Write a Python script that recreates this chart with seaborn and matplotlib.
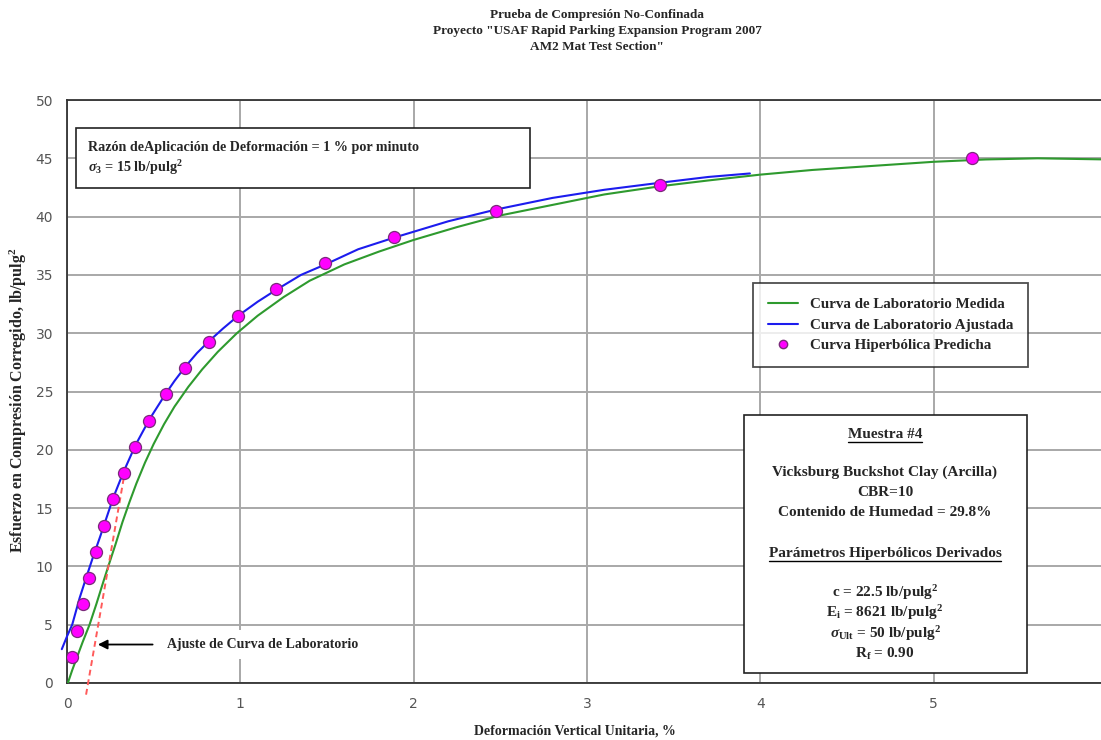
import numpy as np
import pandas as pd
import matplotlib
matplotlib.use('Agg')
import matplotlib.pyplot as plt
import seaborn as sns
from matplotlib.lines import Line2D
from matplotlib.patches import Rectangle
from matplotlib.ticker import MultipleLocator

# curva de laboratorio medida (verde)
meas_strain = [0.005, 0.03, 0.06, 0.09, 0.13, 0.17, 0.21, 0.238, 0.28, 0.32, 0.36, 0.40,
               0.45, 0.50, 0.56, 0.62, 0.70, 0.78, 0.87, 0.98, 1.10, 1.25, 1.40, 1.60,
               1.80, 2.0, 2.25, 2.5, 2.8, 3.1, 3.42, 3.7, 4.0, 4.3, 4.6, 5.0, 5.3,
               5.6, 6.0]
meas_stress = [0.0, 1.1, 2.3, 3.5, 5.0, 6.8, 8.7, 10.0, 11.9, 13.8, 15.5, 17.1,
               18.9, 20.5, 22.2, 23.7, 25.4, 26.9, 28.4, 30.0, 31.5, 33.1, 34.5, 35.9,
               37.0, 38.0, 39.1, 40.1, 41.0, 41.9, 42.6, 43.1, 43.6, 44.0, 44.3, 44.7, 44.9,
               45.0, 44.9]

# curva de laboratorio ajustada (azul)
fit_strain = [-0.03, 0.0, 0.03, 0.073, 0.112, 0.15, 0.19, 0.215, 0.267, 0.326, 0.395,
              0.475, 0.569, 0.62, 0.681, 0.75, 0.818, 0.9, 0.988, 1.1, 1.205, 1.35,
              1.491, 1.68, 1.888, 2.2, 2.473, 2.8, 3.1, 3.42, 3.7, 3.94]
fit_stress = [2.9, 4.0, 5.0, 7.3, 9.1, 10.8, 12.5, 13.6, 15.9, 18.1, 20.4,
              22.6, 24.8, 25.9, 27.1, 28.3, 29.3, 30.4, 31.5, 32.7, 33.7, 35.0,
              35.9, 37.2, 38.2, 39.6, 40.6, 41.6, 42.3, 42.9, 43.4, 43.7]

# curva hiperbolica predicha (puntos)
pred_strain = [0.027, 0.057, 0.091, 0.127, 0.168, 0.215, 0.267, 0.326, 0.395, 0.475,
               0.569, 0.681, 0.818, 0.988, 1.205, 1.491, 1.888, 2.473, 3.42, 5.22]
pred_stress = [2.25, 4.5, 6.75, 9.0, 11.25, 13.5, 15.75, 18.0, 20.25, 22.5,
               24.75, 27.0, 29.25, 31.5, 33.75, 36.0, 38.25, 40.5, 42.75, 45.0]

# linea de ajuste (roja punteada)
tangent_strain = [0.11, 0.33]
tangent_stress = [-1.0, 17.8]

measured = pd.DataFrame({'x': meas_strain, 'y': meas_stress})
fitted = pd.DataFrame({'x': fit_strain, 'y': fit_stress})
predicted = pd.DataFrame({'x': pred_strain, 'y': pred_stress})

sns.set_style('white')
plt.rcParams['font.family'] = ['Liberation Serif', 'DejaVu Serif']
plt.rcParams['mathtext.fontset'] = 'custom'
plt.rcParams['mathtext.rm'] = 'Liberation Serif:bold'
plt.rcParams['mathtext.it'] = 'Liberation Serif:italic:bold'
plt.rcParams['mathtext.bf'] = 'Liberation Serif:bold'

W, H = 1101, 740
fig = plt.figure(figsize=(W / 100, H / 100), dpi=100)
ax = fig.add_axes([67 / W, 57 / H, 1040 / W, 583 / H])

GREEN = '#2e9a2e'
BLUE = '#1c1cee'
MAG = '#ff00ff'

sns.lineplot(data=measured, x='x', y='y', sort=False, estimator=None, color=GREEN,
             lw=1.5, ax=ax, zorder=3)
sns.lineplot(data=fitted, x='x', y='y', sort=False, estimator=None, color=BLUE,
             lw=1.5, ax=ax, zorder=4, clip_on=False)
sns.scatterplot(data=predicted, x='x', y='y', color=MAG, edgecolor='#7a2a7a',
                linewidth=0.9, s=75, ax=ax, zorder=5)
ax.plot(tangent_strain, tangent_stress, color='#ff5a5a', ls=(0, (3, 2)), lw=1.4,
        clip_on=False, zorder=3)

ax.set_xlim(0, 6)
ax.set_ylim(0, 50)
ax.set_xticks(range(0, 6))
ax.set_yticks(range(0, 51, 5))
ax.xaxis.set_minor_locator(MultipleLocator(0.2))
ax.yaxis.set_minor_locator(MultipleLocator(1))
ax.tick_params(which='major', direction='out', length=4, width=1, color='#333333',
               labelsize=10, labelcolor='#555555', pad=6)
ax.tick_params(which='minor', direction='in', length=3, width=1, color='#555555')
for lab in ax.get_xticklabels() + ax.get_yticklabels():
    lab.set_family('DejaVu Sans')
ax.grid(True, which='major', color='#a8a8a8', lw=1.4)
# linea de rejilla en x=6 queda fuera de la figura
ax.set_axisbelow(True)
for side in ['left', 'bottom', 'top']:
    ax.spines[side].set_color('#333333')
    ax.spines[side].set_linewidth(1.3)
ax.spines['right'].set_visible(False)
ax.set_xlabel('')
ax.set_ylabel('')

# flecha de ajuste
ax.annotate('', xy=(0.162, 3.3), xytext=(0.51, 3.3),
            arrowprops=dict(arrowstyle='-|>', color='black', lw=1.3, mutation_scale=14),
            zorder=6)
ax.text(0.575, 3.3, 'Ajuste de Curva de Laboratorio', fontsize=10, fontweight='bold',
        va='center', ha='left', zorder=6,
        bbox=dict(fc='white', ec='none', pad=6))

# leyenda
handles = [Line2D([], [], color=GREEN, lw=1.5),
           Line2D([], [], color=BLUE, lw=1.5),
           Line2D([], [], color=MAG, marker='o', ls='none', markersize=6,
                  markeredgecolor='#7a2a7a')]
labels = ['Curva de Laboratorio Medida', 'Curva de Laboratorio Ajustada',
          'Curva Hiperbólica Predicha']
leg = ax.legend(handles, labels, loc='upper left', bbox_to_anchor=(753 / W, 1 - 283 / H),
                bbox_transform=fig.transFigure, borderaxespad=0, fancybox=False,
                frameon=True, prop={'family': 'Liberation Serif', 'weight': 'bold', 'size': 10.8},
                handlelength=2.0, handletextpad=0.8, labelspacing=0.45, borderpad=1.0)
leg.get_frame().set_edgecolor('#222222')
leg.get_frame().set_linewidth(1.3)
leg.set_zorder(10)


def px_box(x0, y0, x1, y1):
    r = Rectangle((x0 / W, 1 - y1 / H), (x1 - x0) / W, (y1 - y0) / H,
                  transform=fig.transFigure, fc='white', ec='#222222', lw=1.2, zorder=2)
    fig.add_artist(r)


def px_text(x, y, s, ha='left', size=10):
    return fig.text(x / W, 1 - y / H, s, ha=ha, va='center', fontsize=size,
                    fontweight='bold', zorder=3)


# caja superior izquierda
px_box(76, 128, 530, 188)
px_text(88, 147, 'Razón deAplicación de Deformación = 1 % por minuto', size=10.2)
px_text(88, 168, r'$\sigma_3$ = 15 lb/pulg$^2$', size=10.2)

# caja de muestra
px_box(744, 415, 1027, 673)
cx = 885
fs = 11
under = []
under.append(px_text(cx, 434, 'Muestra #4', ha='center', size=fs))
px_text(cx, 472, 'Vicksburg Buckshot Clay (Arcilla)', ha='center', size=fs)
px_text(cx, 492, 'CBR=10', ha='center', size=fs)
px_text(cx, 513, 'Contenido de Humedad = 29.8%', ha='center', size=fs)
under.append(px_text(cx, 553, 'Parámetros Hiperbólicos Derivados', ha='center', size=fs))
px_text(cx, 593, r'c = 22.5 lb/pulg$^2$', ha='center', size=fs)
px_text(cx, 613, r'E$_\mathrm{i}$ = 8621 lb/pulg$^2$', ha='center', size=fs)
px_text(cx, 634, r'$\sigma_\mathrm{Ult}$ = 50 lb/pulg$^2$', ha='center', size=fs)
px_text(cx, 654, r'R$_\mathrm{f}$ = 0.90', ha='center', size=fs)

# titulo
px_text(597, 15, 'Prueba de Compresión No-Confinada', ha='center', size=9.5)
px_text(597, 31, 'Proyecto "USAF Rapid Parking Expansion Program 2007', ha='center', size=9.5)
px_text(597, 47, 'AM2 Mat Test Section"', ha='center', size=9.5)

# ejes
fig.text(18 / W, 1 - 400 / H, 'Esfuerzo en Compresión Corregido, lb/pulg$^2$', rotation=90,
         ha='center', va='center', fontsize=11.5, fontweight='bold')
px_text(575, 731, 'Deformación Vertical Unitaria, %', ha='center', size=10)

# subrayado
fig.canvas.draw()
for t in under:
    bb = t.get_window_extent()
    yl = bb.y0 - 1
    fig.add_artist(Line2D([bb.x0 / W, bb.x1 / W], [yl / H, yl / H], color='black',
                          lw=1.0, transform=fig.transFigure, zorder=4))

fig.savefig('out.png', dpi=100)
